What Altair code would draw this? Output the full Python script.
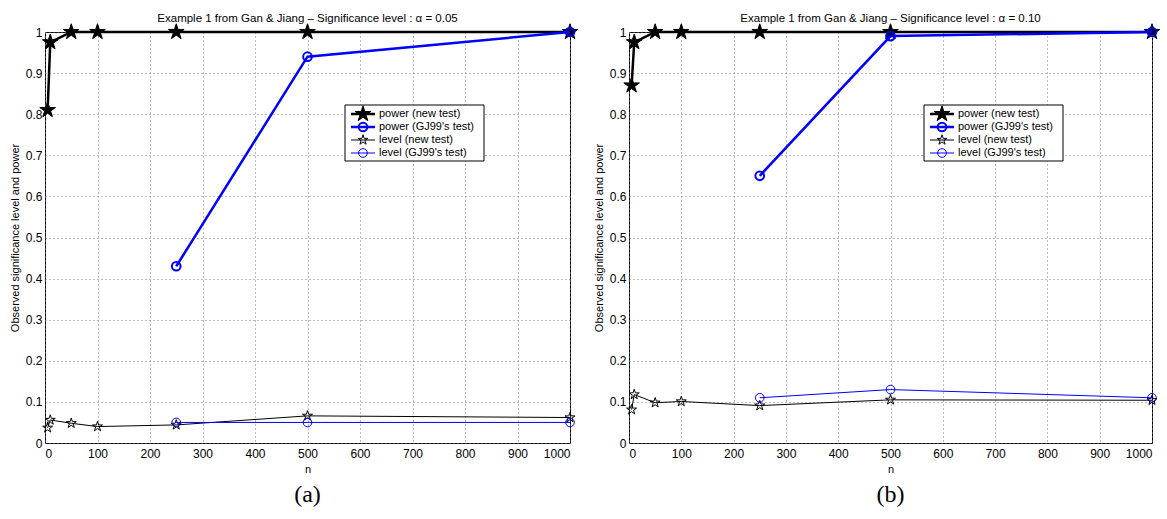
import math
import altair as alt
import pandas as pd

# ---------------- data ----------------
n_new = [5, 10, 50, 100, 250, 500, 1000]
n_gj = [250, 500, 1000]

power_new_a = [0.81, 0.975, 1.0, 1.0, 1.0, 1.0, 1.0]
power_gj_a = [0.43, 0.94, 1.0]
level_new_a = [0.037, 0.056, 0.048, 0.040, 0.044, 0.066, 0.062]
level_gj_a = [0.050, 0.050, 0.050]

power_new_b = [0.87, 0.975, 1.0, 1.0, 1.0, 1.0, 1.0]
power_gj_b = [0.65, 0.99, 1.0]
level_new_b = [0.081, 0.118, 0.098, 0.101, 0.091, 0.105, 0.104]
level_gj_b = [0.110, 0.130, 0.110]

series_names = ["power (new test)", "power (GJ99's test)",
                "level (new test)", "level (GJ99's test)"]
panel_titles = ["Example 1 from Gan & Jiang \u2013 Significance level : \u03b1 = 0.05",
                "Example 1 from Gan & Jiang \u2013 Significance level : \u03b1 = 0.10"]
captions = ["(a)", "(b)"]
x_ticks = [0, 100, 200, 300, 400, 500, 600, 700, 800, 900, 1000]
y_ticks = [0, 0.1, 0.2, 0.3, 0.4, 0.5, 0.6, 0.7, 0.8, 0.9, 1]

# ---------------- styles ----------------
def star_path():
    pts = []
    for k in range(10):
        r = 1.0 if k % 2 == 0 else 0.382
        a = math.radians(-90 + 36 * k)
        pts.append((r * math.cos(a), r * math.sin(a)))
    return "M" + "L".join(f"{x:.3f},{y:.3f}" for x, y in pts) + "Z"

STAR = star_path()
BLUE = "#0000ff"
FONT = "Liberation Sans"

styles = {
    "power (new test)": dict(color="black", width=2.5, shape=STAR, size=270, filled=True, sw=1),
    "power (GJ99's test)": dict(color=BLUE, width=2.5, shape="circle", size=75, filled=False, sw=2),
    "level (new test)": dict(color="black", width=1, shape=STAR, size=110, filled=False, sw=1),
    "level (GJ99's test)": dict(color=BLUE, width=1, shape="circle", size=75, filled=False, sw=1),
}

H = 411

xscale = alt.Scale(domain=[0, 1000], nice=False, zero=False)
yscale = alt.Scale(domain=[0, 1], nice=False)
xaxis = alt.Axis(values=x_ticks, format="d", title="n", ticks=False, domain=False,
                 grid=True, labelPadding=5, titlePadding=4)
yaxis = alt.Axis(values=y_ticks, format="~g", title="Observed significance level and power",
                 ticks=False, domain=False, grid=True, labelPadding=3, titlePadding=5)


def series_layers(name, xs, ys):
    st = styles[name]
    df = pd.DataFrame({"n": xs, "v": ys})
    X = alt.X("n:Q", scale=xscale, axis=xaxis)
    Y = alt.Y("v:Q", scale=yscale, axis=yaxis)
    line = alt.Chart(df).mark_line(color=st["color"], strokeWidth=st["width"]).encode(x=X, y=Y)
    pt_kwargs = dict(shape=st["shape"], size=st["size"], strokeWidth=st["sw"], opacity=1)
    if st["filled"]:
        pt = alt.Chart(df).mark_point(filled=True, fill=st["color"], stroke=st["color"], **pt_kwargs)
    else:
        pt = alt.Chart(df).mark_point(filled=False, stroke=st["color"], **pt_kwargs)
    pt = pt.encode(x=X, y=Y)
    return [line, pt]


def legend_layers(x0):
    one = pd.DataFrame({"k": [0]})
    layers = [alt.Chart(one).mark_rect(fill="white", stroke="black", strokeWidth=1).encode(
        x=alt.value(x0), x2=alt.value(x0 + 139), y=alt.value(73), y2=alt.value(129))]
    for i, name in enumerate(series_names):
        st = styles[name]
        yy = 82 + 13 * i
        layers.append(alt.Chart(one).mark_rule(color=st["color"], strokeWidth=st["width"]).encode(
            x=alt.value(x0 + 6), x2=alt.value(x0 + 30), y=alt.value(yy)))
        kw = dict(shape=st["shape"], size=st["size"], strokeWidth=st["sw"], opacity=1)
        if st["filled"]:
            p = alt.Chart(one).mark_point(filled=True, fill=st["color"], stroke=st["color"], **kw)
        else:
            p = alt.Chart(one).mark_point(filled=False, stroke=st["color"], **kw)
        layers.append(p.encode(x=alt.value(x0 + 18), y=alt.value(yy)))
        layers.append(alt.Chart(pd.DataFrame({"label": [name]})).mark_text(
            align="left", baseline="middle", font=FONT, fontSize=11, color="black").encode(
            x=alt.value(x0 + 34), y=alt.value(yy), text="label:N"))
    return layers


def panel(i, pn, pg, ln, lg, legend_x, W):
    layers = []
    layers += series_layers(series_names[0], n_new, pn)
    layers += series_layers(series_names[1], n_gj, pg)
    layers += series_layers(series_names[2], n_new, ln)
    layers += series_layers(series_names[3], n_gj, lg)
    layers += legend_layers(legend_x)
    layers.append(alt.Chart(pd.DataFrame({"c": [captions[i]]})).mark_text(
        font="Liberation Serif", fontSize=24, baseline="middle", align="center", color="black").encode(
        x=alt.value(W / 2), y=alt.value(463), text="c:N"))
    return alt.layer(*layers).properties(
        width=W, height=H,
        title=alt.TitleParams(panel_titles[i], font=FONT, fontSize=11.5, fontWeight="normal",
                              color="black", offset=-3))


left = panel(0, power_new_a, power_gj_a, level_new_a, level_gj_a, 300, 525)
right = panel(1, power_new_b, power_gj_b, level_new_b, level_gj_b, 295, 523)

chart = alt.hconcat(left, right, spacing=11).properties(
    padding={"left": 8, "top": 12, "right": 2, "bottom": 2}
).configure_view(stroke="black", strokeWidth=1).configure_axis(
    labelFont=FONT, labelFontSize=12, labelColor="black",
    titleFont=FONT, titleFontSize=11, titleFontWeight="normal", titleColor="black",
    gridColor="#777777", gridDash=[1, 3], gridOpacity=1, gridWidth=1
)

chart.save("out.html", embed_options={"renderer": "svg", "actions": False})
